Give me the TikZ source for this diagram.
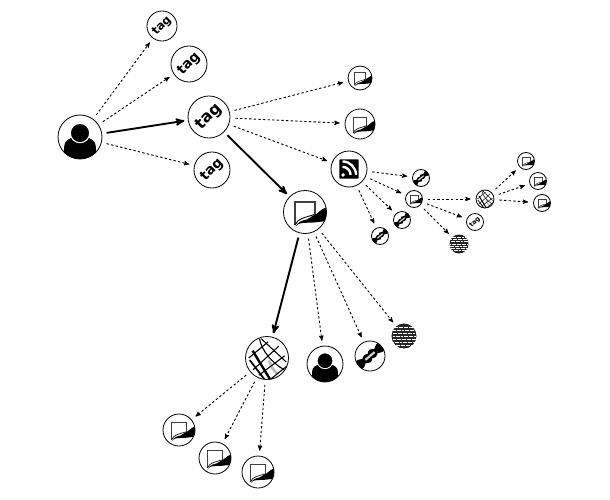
\documentclass[tikz,border=0pt]{standalone}
\usepackage{fontspec}
\setsansfont{DejaVu Sans}
\usetikzlibrary{arrows}
\tikzset{
>=stealth', % arrow heads as in the graph
bubble/.style={circle, draw, line width=0.8pt, fill=white, minimum size=2*#1 pt, inner sep=0pt},
tagged/.style 2 args={bubble=#1, rotate=45, font=\sffamily\bfseries\fontsize{#2}{#2}\selectfont},
hop/.style={->, dash pattern=on 2.4pt off 2.2pt, line width=0.9pt, shorten >=5pt, shorten <=5pt},
mainhop/.style={->, line width=1.9pt, shorten >=3.5pt, shorten <=4.5pt},
pics/pageicon/.style={code={
    \begin{scope}[scale=#1]
        \clip (0,0) circle (1);
        \draw[line width=#1*0.07pt, black!75] (-0.46,0.6) -- (-0.46,-0.46) -- (0.46,-0.46) -- (0.46,0.12);
        \draw[line width=#1*0.04pt] (-0.46,0.6) .. controls (-0.35,0.3) and (0,0.26) .. (0.42,0.12);
        \fill (0.36,0.18) .. controls (0.6,0.1) and (0.72,-0.14) .. (1,-0.22) -- (1.05,0.42) .. controls (0.7,0.44) and (0.5,0.5) .. (0.1,0.5) .. controls (-0.1,0.5) and (-0.3,0.5) .. (-0.44,0.68) .. controls (-0.35,0.46) and (-0.1,0.38) .. (0.1,0.34) -- cycle;
    \end{scope}
}},
pics/usericon/.style={code={
    \begin{scope}[scale=#1]
        \clip (0,0) circle (1);
        \fill (-0.72,1.1) -- (-0.72,0.45) .. controls (-0.72,0.15) and (-0.5,0.1) .. (-0.3,0) -- (0.3,0) .. controls (0.5,0.1) and (0.72,0.15) .. (0.72,0.45) -- (0.72,1.1) -- cycle;
        \fill[draw=white, line width=#1*0.05pt] (0,-0.18) circle (0.44);
    \end{scope}
}},
pics/rssicon/.style={code={
    \begin{scope}[scale=#1]
        \fill[rounded corners=#1*0.05pt] (-0.54,-0.54) rectangle (0.54,0.54);
        \fill[white] (-0.33,0.33) circle (0.11);
        \draw[white, line width=#1*0.13pt] (-0.36,-0.12) arc (-90:0:0.45);
        \draw[white, line width=#1*0.13pt] (-0.36,-0.42) arc (-90:0:0.75);
    \end{scope}
}},
pics/linkicon/.style={code={
    \begin{scope}[scale=#1]
        \clip (0,0) circle (1);
        \foreach \turn in {40,220} {
            \begin{scope}[rotate=\turn, yscale=1.35]
                \fill (1.1,-0.24) -- (0.8,-0.24) .. controls (0.65,-0.24) and (0.62,-0.13) .. (0.52,-0.13) .. controls (0.42,-0.13) and (0.42,-0.26) .. (0.22,-0.26) .. controls (0.12,-0.26) and (0,-0.18) .. (-0.12,-0.08) -- (-0.12,0.08) .. controls (0,0.14) and (0.12,0.2) .. (0.22,0.22) .. controls (0.42,0.24) and (0.42,0.13) .. (0.52,0.13) .. controls (0.62,0.13) and (0.65,0.24) .. (0.8,0.24) -- (1.1,0.24) -- cycle;
            \end{scope}
        }
        \draw[black!15, line width=#1*0.14pt, rotate=40] (-0.4,0) -- (0.4,0);
    \end{scope}
}},
pics/webicon/.style={code={
    \begin{scope}[scale=#1]
        \clip (0,0) circle (1);
        \draw[black!25, line width=#1*0.14pt] (0.1,0.12) .. controls (0.2,0.4) and (0.3,0.6) .. (0.5,0.75);
        \draw[line width=#1*0.11pt] (-0.67,-0.34) -- (0.27,1.2);
        \draw[line width=#1*0.08pt] (-0.8,0.1) -- (0,1.15);
        \draw[line width=#1*0.05pt] (-0.35,-0.9) .. controls (-0.25,-0.35) and (0.2,0.2) .. (0.8,0.55);
        \draw[line width=#1*0.05pt] (-0.27,-0.9) -- (0.9,0.19);
        \draw[line width=#1*0.05pt] (-0.85,0) -- (0.05,-0.75);
        \draw[line width=#1*0.05pt] (-0.65,0.55) -- (0.55,-0.55);
        \draw[line width=#1*0.05pt] (-0.38,0.8) -- (0.82,-0.1);
        \draw[line width=#1*0.05pt] (0.15,1) -- (0.92,0.38);
    \end{scope}
}},
pics/texticon/.style={code={
    \begin{scope}[scale=#1]
        \fill[black!85] (0,0) circle (1);
        \foreach \yline in {-0.75,-0.5,-0.25,0,0.25,0.5,0.75} {
            \draw[white, line width=#1*0.07pt, dash pattern=on 1.3pt off 0.35pt, dash phase={(\yline+1)*2pt}] (-0.95,\yline) -- (0.95,\yline);
        }
    \end{scope}
}},
}

\begin{document}
\begin{tikzpicture}[x=1pt, y=-1pt]
    \useasboundingbox (0,0) rectangle (610,500);

    \node[bubble=22] (owner) at (80,137) {};
    \node[tagged={15}{11.5}] (tag_a) at (162,26) {tag};
    \node[tagged={18}{13.8}] (tag_b) at (189,64) {tag};
    \node[tagged={21}{16}] (tag_c) at (209,117) {tag};
    \node[tagged={18}{13.8}] (tag_d) at (212,170) {tag};

    \node[bubble=12] (page_a) at (360,78) {};
    \node[bubble=15] (page_b) at (360,124) {};
    \node[bubble=18] (feed) at (349,169) {};
    \node[bubble=21.5] (page_c) at (305,212) {};

    \node[bubble=8.5] (link_a) at (421,178) {};
    \node[bubble=8.5] (page_d) at (414,199) {};
    \node[bubble=8.5] (link_b) at (402,220) {};
    \node[bubble=8.5] (link_c) at (380,236) {};
    \node[tagged={8.5}{6.4}] (tag_e) at (475,222) {tag};
    \node[bubble=9] (text_a) at (459,244) {};
    \node[bubble=9] (web_a) at (485,199) {};
    \node[bubble=8.5] (page_e) at (526,161) {};
    \node[bubble=8.5] (page_f) at (538,181) {};
    \node[bubble=8.5] (page_g) at (542,203) {};

    \node[bubble=21.5] (web_b) at (267,358) {};
    \node[bubble=18] (owner_b) at (325,364) {};
    \node[bubble=15] (link_d) at (370,356) {};
    \node[bubble=12] (text_b) at (404,336) {};
    \node[bubble=16] (page_h) at (179,430) {};
    \node[bubble=16] (page_i) at (215,458) {};
    \node[bubble=16] (page_j) at (258,472) {};

    \pic at (owner) {usericon=22};
    \pic at (owner_b) {usericon=18};
    \pic at (feed) {rssicon=18};
    \pic at (page_a) {pageicon=12};
    \pic at (page_b) {pageicon=15};
    \pic at (page_c) {pageicon=21.5};
    \pic at (page_d) {pageicon=8.5};
    \pic at (page_e) {pageicon=8.5};
    \pic at (page_f) {pageicon=8.5};
    \pic at (page_g) {pageicon=8.5};
    \pic at (page_h) {pageicon=16};
    \pic at (page_i) {pageicon=16};
    \pic at (page_j) {pageicon=16};
    \pic at (link_a) {linkicon=8.5};
    \pic at (link_b) {linkicon=8.5};
    \pic at (link_c) {linkicon=8.5};
    \pic at (link_d) {linkicon=15};
    \pic at (web_a) {webicon=9};
    \pic at (web_b) {webicon=21.5};
    \pic at (text_a) {texticon=9};
    \pic at (text_b) {texticon=12};

    \draw
        (owner) edge[hop] (tag_a)
        (owner) edge[hop] (tag_b)
        (owner) edge[hop] (tag_d)
        (tag_c) edge[hop] (page_a)
        (tag_c) edge[hop] (page_b)
        (tag_c) edge[hop] (feed)
        %
        (feed) edge[hop] (link_a)
        (feed) edge[hop] (page_d)
        (feed) edge[hop] (link_b)
        (feed) edge[hop] (link_c)
        (page_d) edge[hop] (web_a)
        (page_d) edge[hop] (tag_e)
        (page_d) edge[hop] (text_a)
        (web_a) edge[hop] (page_e)
        (web_a) edge[hop] (page_f)
        (web_a) edge[hop] (page_g)
        %
        (page_c) edge[hop] (owner_b)
        (page_c) edge[hop] (link_d)
        (page_c) edge[hop] (text_b)
        (web_b) edge[hop] (page_h)
        (web_b) edge[hop] (page_i)
        (web_b) edge[hop] (page_j)
        %
        (owner) edge[mainhop] (tag_c)
        (tag_c) edge[mainhop] (page_c)
        (page_c) edge[mainhop] (web_b);
\end{tikzpicture}
\end{document}
